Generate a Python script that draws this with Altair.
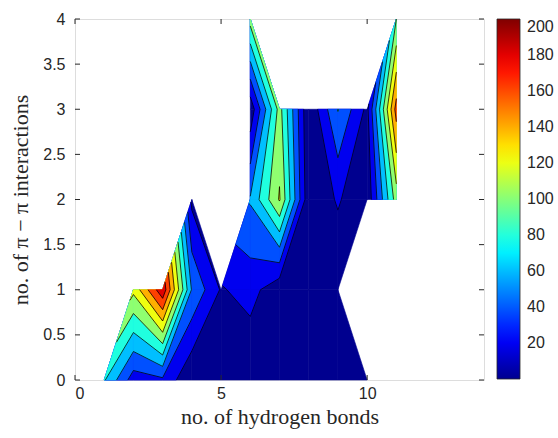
import altair as alt
import pandas as pd

# ---------------- data (counts on an integer grid; None = no observations) -------------
hbonds = [1, 2, 3, 4, 5, 6, 7, 8, 9, 10, 11]          # x grid
pipi = [0, 1, 2, 3, 4]                                # y grid
N = None
counts_pipi0 = [82, 30, 36, 2, 4, 1, 2, 2, 2, 3, N]
counts_pipi1 = [N, 125, 195, 58, 18, 28, 5, 3, 5, N, N]
counts_pipi2 = [N, N, N, 15, N, 62, 122, 5, 22, 5, 110]
counts_pipi3 = [N, N, N, N, N, 6, 108, 2, 61, 15, 168]
counts_pipi4 = [N, N, N, N, N, 108, N, N, N, N, 100]
grid = [counts_pipi0, counts_pipi1, counts_pipi2, counts_pipi3, counts_pipi4]

levels = [0, 20, 40, 60, 80, 100, 120, 140, 160, 180]
cbar_ticks = [20, 40, 60, 80, 100, 120, 140, 160, 180, 200]
x_ticks = [0, 5, 10]
y_ticks = [0, 0.5, 1, 1.5, 2, 2.5, 3, 3.5, 4]
CMIN, CMAX = 0, 200


def jet64(i):
    """MATLAB jet(64) entry i (1..64) as hex."""
    if i <= 8:
        r, g, b = 0, 0, 0.5 + i / 16
    elif i <= 24:
        r, g, b = 0, (i - 8) / 16, 1
    elif i <= 40:
        r, g, b = (i - 24) / 16, 1, 1 - (i - 24) / 16
    elif i <= 56:
        r, g, b = 1, 1 - (i - 40) / 16, 0
    else:
        r, g, b = 1 - (i - 56) / 16, 0, 0
    return "#%02x%02x%02x" % (round(r * 255), round(g * 255), round(b * 255))


def level_color(v):
    idx = int((v - CMIN) / (CMAX - CMIN) * 64) + 1
    return jet64(max(1, min(64, idx)))


# ---------------- filled contour polygons (marching squares with linear edges) ----------
cells = []
for j in range(len(pipi) - 1):
    for i in range(len(hbonds) - 1):
        corners = [(i, j), (i + 1, j), (i + 1, j + 1), (i, j + 1)]
        pts = [(hbonds[a], pipi[b], grid[b][a]) for a, b in corners if grid[b][a] is not None]
        if len(pts) >= 3:
            cells.append(pts)

poly_rows = []
seg_rows = []
pid = 0
sid = 0
for cell in cells:
    n = len(cell)
    for L in levels:
        out = []
        cross = []
        for k in range(n):
            x1, y1, v1 = cell[k]
            x2, y2, v2 = cell[(k + 1) % n]
            if v1 >= L:
                out.append((x1, y1))
            if (v1 >= L) != (v2 >= L):
                t = (L - v1) / (v2 - v1)
                p = (x1 + t * (x2 - x1), y1 + t * (y2 - y1))
                out.append(p)
                cross.append(("exit" if v1 >= L else "enter", p))
        if len(out) >= 3:
            for o, (px, py) in enumerate(out):
                poly_rows.append({"x": px, "y": py, "o": o, "pid": pid, "level": L})
            pid += 1
        if L > CMIN and cross:
            m = len(cross)
            for k in range(m):
                if cross[k][0] == "exit":
                    nxt = cross[(k + 1) % m]
                    for o, p in enumerate([cross[k][1], nxt[1]]):
                        seg_rows.append({"x": p[0], "y": p[1], "o": o, "sid": sid})
                    sid += 1

df_poly = pd.DataFrame(poly_rows)
df_seg = pd.DataFrame(seg_rows)

FONT = "Liberation Sans"
SERIF = "Liberation Serif"
AX = "#262626"

xs = alt.Scale(domain=[0, 14], nice=False, zero=False)
ys = alt.Scale(domain=[0, 4], nice=False, zero=False)
x_axis = alt.Axis(values=x_ticks, title="no. of hydrogen bonds", ticks=False, domain=False,
                  grid=False, labelFont=FONT, labelFontSize=16, labelColor=AX, labelPadding=5,
                  titleFont=SERIF, titleFontSize=22, titleFontWeight="normal", titleColor=AX,
                  titlePadding=5)
y_axis = alt.Axis(values=y_ticks, format="~g", title="no. of \u03c0 \u2212 \u03c0 interactions",
                  ticks=False, domain=False, grid=False, labelFont=FONT, labelFontSize=16,
                  labelColor=AX, labelPadding=10, titleFont=SERIF, titleFontSize=22,
                  titleFontWeight="normal", titleColor=AX, titlePadding=10)

X = alt.X("x:Q", scale=xs, axis=x_axis)
Y = alt.Y("y:Q", scale=ys, axis=y_axis)

layers = []
for L in levels:
    col = level_color(L)
    layers.append(
        alt.Chart(df_poly).transform_filter(alt.datum.level == L)
        .mark_line(fill=col, stroke=col, strokeWidth=0.6, interpolate="linear-closed")
        .encode(x=X, y=Y, detail="pid:N", order="o:Q")
    )

lines = alt.Chart(df_seg).mark_line(color="black", strokeWidth=0.75).encode(
    x=X, y=Y, detail="sid:N", order="o:Q")
layers.append(lines)

# inward axis ticks (box style)
H = 361
W = 409
df_xt = pd.DataFrame({"x": x_ticks})
df_yt = pd.DataFrame({"y": y_ticks})
layers.append(alt.Chart(df_xt).mark_rule(color=AX, strokeWidth=1).encode(
    x=X, y=alt.value(H), y2=alt.value(H - 5)))
layers.append(alt.Chart(df_xt).mark_rule(color=AX, strokeWidth=1).encode(
    x=X, y=alt.value(0), y2=alt.value(5)))
layers.append(alt.Chart(df_yt).mark_rule(color=AX, strokeWidth=1).encode(
    y=Y, x=alt.value(0), x2=alt.value(5)))
layers.append(alt.Chart(df_yt).mark_rule(color=AX, strokeWidth=1).encode(
    y=Y, x=alt.value(W), x2=alt.value(W - 5)))

# colour bar (jet gradient legend)
jet_range = [jet64(i) for i in range(1, 65)]
df_cb = pd.DataFrame({"x": [0, 0], "y": [0, 0], "v": [CMIN, CMAX]})
layers.append(alt.Chart(df_cb).mark_point(opacity=0).encode(
    x=X, y=Y,
    color=alt.Color("v:Q", scale=alt.Scale(domain=[CMIN, CMAX], range=jet_range, nice=False),
                    legend=alt.Legend(title=None, values=cbar_ticks, orient="right", offset=13,
                                      padding=0, gradientLength=360, gradientThickness=23,
                                      gradientStrokeColor=AX, gradientStrokeWidth=0.8,
                                      labelFont=FONT, labelFontSize=16, labelColor=AX,
                                      labelOffset=7, labelBaseline="middle",
                                      labelOverlap=False, direction="vertical"))))

chart = alt.layer(*layers).properties(
    width=W, height=H,
    autosize=alt.AutoSizeParams(type="none"),
    padding={"left": 75, "top": 19, "right": 74, "bottom": 58},
).configure_view(stroke="#555555", strokeWidth=1).configure(background="white")

chart.save("out.html", embed_options={"renderer": "svg", "actions": False})
